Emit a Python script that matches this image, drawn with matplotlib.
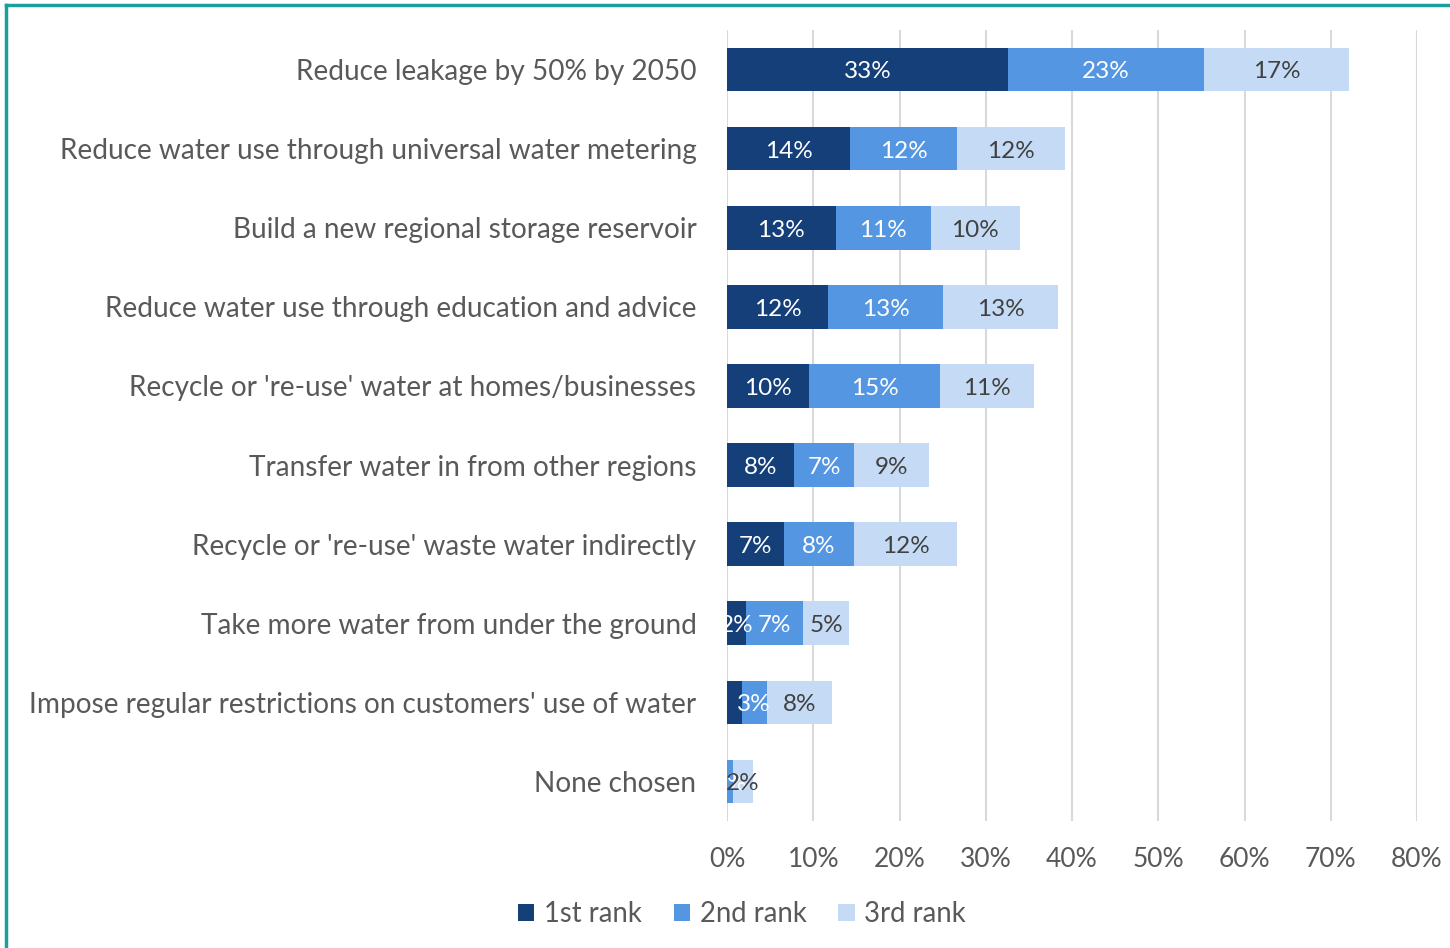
import matplotlib.pyplot as plt
import numpy as np
from matplotlib.lines import Line2D

plt.rcParams['font.family'] = ['Lato', 'DejaVu Sans']

# survey options, top to bottom
options = [
    "Reduce leakage by 50% by 2050",
    "Reduce water use through universal water metering",
    "Build a new regional storage reservoir",
    "Reduce water use through education and advice",
    "Recycle or 're-use' water at homes/businesses",
    "Transfer water in from other regions",
    "Recycle or 're-use' waste water indirectly",
    "Take more water from under the ground",
    "Impose regular restrictions on customers' use of water",
    "None chosen",
]
rank1 = [32.6, 14.3, 12.6, 11.7, 9.5, 7.8, 6.6, 2.2, 1.7, 0.0]
rank2 = [22.7, 12.4, 11.0, 13.4, 15.2, 6.9, 8.1, 6.6, 2.9, 0.7]
rank3 = [16.8, 12.5, 10.4, 13.3, 10.9, 8.7, 12.0, 5.4, 7.6, 2.3]
series_names = ["1st rank", "2nd rank", "3rd rank"]

colors = ["#143f78", "#5596e2", "#c5dbf5"]
label_colors = ["white", "white", "#404040"]
grey = "#595959"

fig = plt.figure(figsize=(14.5, 9.48), dpi=100)
ax = fig.add_axes([727 / 1450, 1 - 821 / 948, 690 / 1450, 791 / 948])

y = np.arange(len(options))
left = np.zeros(len(options))
for k, (vals, name, col, lc) in enumerate(zip([rank1, rank2, rank3], series_names, colors, label_colors)):
    vals = np.array(vals)
    bars = ax.barh(y, vals, left=left, height=0.55, color=col, label=name, zorder=3)
    for i, (b, v) in enumerate(zip(bars, vals)):
        # first-rank labels on the two thinnest bars are left off
        if k == 0 and v < 2:
            continue
        ax.text(b.get_x() + b.get_width() / 2, b.get_y() + b.get_height() / 2 + 0.03,
                f"{v:.0f}%", ha="center", va="center", color=lc, fontsize=17.5, zorder=4)
    left += vals

ax.set_xlim(0, 80)
ax.set_ylim(len(options) - 0.5, -0.5)
ax.set_xticks(np.arange(0, 81, 10))
ax.set_xticklabels([f"{t}%" for t in range(0, 81, 10)], fontsize=19, color=grey)
ax.set_yticks(y)
ax.set_yticklabels(options, fontsize=20.2, color=grey)
ax.tick_params(axis="both", length=0)
ax.tick_params(axis="y", pad=22)
ax.tick_params(axis="x", pad=19)
ax.xaxis.grid(True, color="#d9d9d9", linewidth=1.5, zorder=0)
for s in ax.spines.values():
    s.set_visible(False)

fig.legend(loc="center", bbox_to_anchor=(742 / 1450, 1 - 914 / 948), ncol=3, frameon=False,
           fontsize=19.8, labelcolor=grey, handlelength=0.6, handleheight=0.6,
           columnspacing=1.15, handletextpad=0.35)

# teal frame around the chart
fig.add_artist(Line2D([6 / 1450, 6 / 1450], [0, 1 - 5 / 948], color="#1a9e9e", lw=2.5,
                      transform=fig.transFigure))
fig.add_artist(Line2D([6 / 1450, 1], [1 - 5 / 948, 1 - 5 / 948], color="#1a9e9e", lw=2.5,
                      transform=fig.transFigure))

fig.savefig("out.png", dpi=100)
